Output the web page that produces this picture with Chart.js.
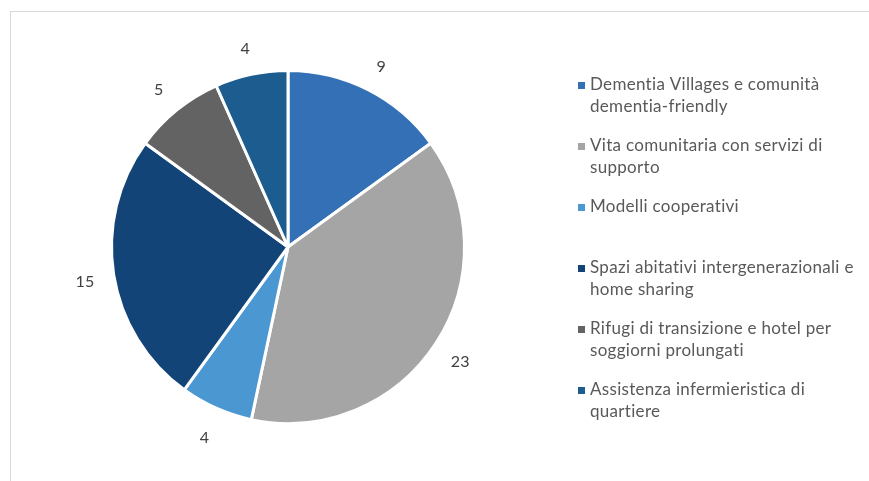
<!DOCTYPE html>
<html>
<head>
<meta charset="utf-8">
<script src="https://cdn.jsdelivr.net/npm/chart.js@4"></script>
<style>
  html, body { margin: 0; padding: 0; background: #ffffff; }
  #wrap { position: relative; width: 869px; height: 481px; }
</style>
</head>
<body>
<div id="wrap"><canvas id="chart" width="869" height="481"></canvas></div>
<script>
// Categorie di soluzioni abitative e numero di casi
const categories = [
  'Dementia Villages e comunità dementia-friendly',
  'Vita comunitaria con servizi di supporto',
  'Modelli cooperativi',
  'Spazi abitativi intergenerazionali e home sharing',
  'Rifugi di transizione e hotel per soggiorni prolungati',
  'Assistenza infermieristica di quartiere'
];
const counts = [9, 23, 4, 15, 5, 4];
const sliceColors = ['#3470b5', '#a5a5a5', '#4a97d2', '#124478', '#636363', '#1c5c8f'];

const FONT = '17px Lato, "Open Sans", sans-serif';
const TEXT_COLOR = '#595959';

// Thin grey frame around the chart area
const framePlugin = {
  id: 'frame',
  beforeDraw(chart) {
    const ctx = chart.ctx;
    ctx.save();
    ctx.strokeStyle = '#d9d9d9';
    ctx.lineWidth = 1;
    ctx.strokeRect(10.5, 11.5, chart.width + 20, chart.height + 20);
    ctx.restore();
  }
};

// Value labels placed just outside each slice
const outerLabels = {
  id: 'outerLabels',
  afterDatasetsDraw(chart) {
    const ctx = chart.ctx;
    const meta = chart.getDatasetMeta(0);
    ctx.save();
    ctx.font = '16px Lato, "Open Sans", sans-serif';
    ctx.letterSpacing = '0.3px';
    ctx.fillStyle = '#404040';
    ctx.textAlign = 'center';
    ctx.textBaseline = 'middle';
    meta.data.forEach((arc, i) => {
      const p = arc.getProps(['x', 'y', 'startAngle', 'endAngle', 'outerRadius'], true);
      const mid = (p.startAngle + p.endAngle) / 2;
      const r = p.outerRadius + 29;
      ctx.fillText(String(chart.data.datasets[0].data[i]), p.x + Math.cos(mid) * r, p.y + 3 + Math.sin(mid) * r);
    });
    ctx.restore();
  }
};

// Legend on the right with wrapped entries
const sideLegend = {
  id: 'sideLegend',
  afterDraw(chart) {
    const ctx = chart.ctx;
    const x0 = 578, textX = 590, maxW = 270, lineH = 22, step = 61, firstY = 85;
    ctx.save();
    ctx.font = FONT;
    ctx.letterSpacing = '0.3px';
    ctx.textBaseline = 'middle';
    ctx.textAlign = 'left';
    chart.data.labels.forEach((label, i) => {
      const y = firstY + i * step;
      ctx.fillStyle = chart.data.datasets[0].backgroundColor[i];
      ctx.fillRect(x0, y - 3, 7, 7);
      const words = label.split(' ');
      const lines = [];
      let cur = '';
      words.forEach(w => {
        const test = cur ? cur + ' ' + w : w;
        if (ctx.measureText(test).width > maxW && cur) { lines.push(cur); cur = w; }
        else cur = test;
      });
      if (cur) lines.push(cur);
      ctx.fillStyle = TEXT_COLOR;
      lines.forEach((ln, k) => ctx.fillText(ln, textX, y + k * lineH));
    });
    ctx.restore();
  }
};

new Chart(document.getElementById('chart'), {
  type: 'pie',
  data: {
    labels: categories,
    datasets: [{
      data: counts,
      backgroundColor: sliceColors,
      borderColor: '#ffffff',
      borderWidth: 3
    }]
  },
  options: {
    responsive: false,
    animation: false,
    layout: { padding: { left: 110, top: 69, right: 403, bottom: 56 } },
    plugins: {
      legend: { display: false },
      tooltip: { enabled: false }
    }
  },
  plugins: [framePlugin, outerLabels, sideLegend]
});
</script>
</body>
</html>
